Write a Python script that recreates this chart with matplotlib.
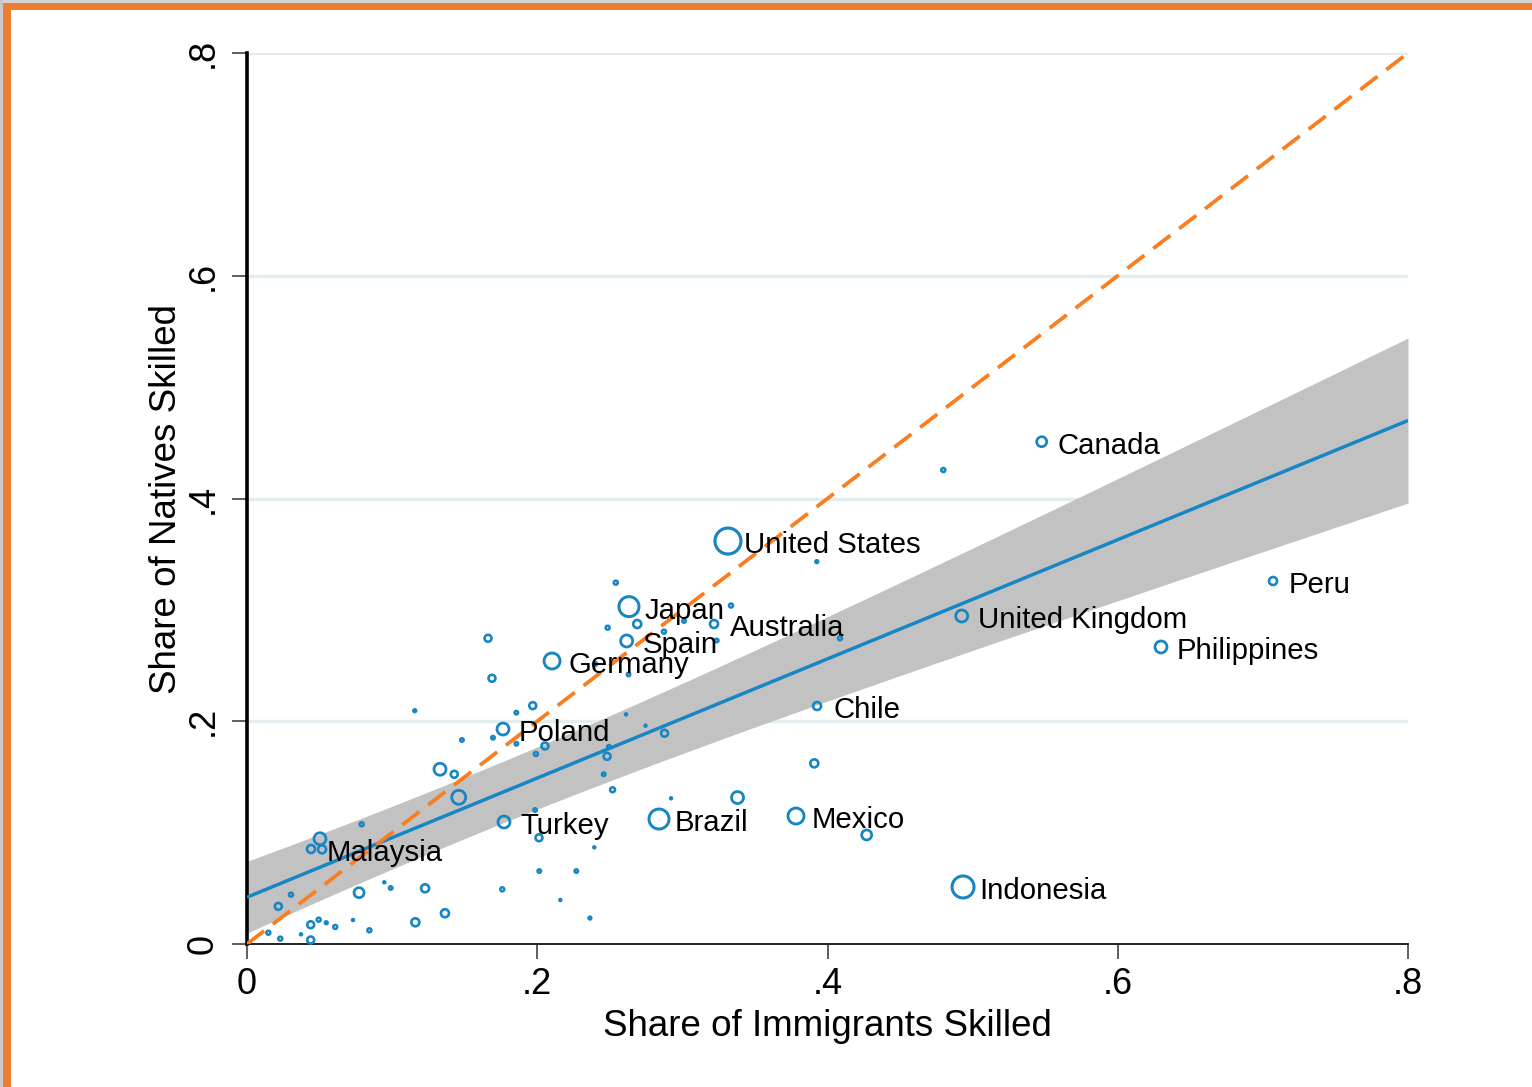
import matplotlib
matplotlib.use("Agg")
import matplotlib.pyplot as plt
import numpy as np
from matplotlib.patches import Rectangle

plt.rcParams['font.family'] = ['Liberation Sans', 'DejaVu Sans']
plt.rcParams['lines.scale_dashes'] = False

# ---------------- data ----------------
labeled_names = ["Canada", "United States", "Peru", "Japan", "Australia", "Spain",
                 "Germany", "United Kingdom", "Philippines", "Chile", "Poland",
                 "Turkey", "Brazil", "Mexico", "Malaysia", "Indonesia"]
labeled_x = [0.5476, 0.3314, 0.7070, 0.2632, 0.3218, 0.2616, 0.2102, 0.4925,
             0.6298, 0.3928, 0.1764, 0.1771, 0.2839, 0.3783, 0.0441, 0.4934]
labeled_y = [0.4510, 0.3618, 0.3259, 0.3029, 0.2873, 0.2721, 0.2541, 0.2945,
             0.2667, 0.2137, 0.1930, 0.1095, 0.1122, 0.1149, 0.0853, 0.0512]
labeled_w = [25, 169, 16, 100, 16, 36, 64, 36, 36, 16, 36, 36, 100, 64, 16, 121]

other_x = [0.2541, 0.2689, 0.2485, 0.2873, 0.3335, 0.3237, 0.1661, 0.1688, 0.2629,
           0.2398, 0.1156, 0.1856, 0.1969, 0.2612, 0.2746, 0.2877, 0.1695, 0.1481,
           0.1856, 0.1991, 0.2053, 0.2494, 0.2481, 0.2458, 0.2519, 0.1330, 0.1428,
           0.1459, 0.2922, 0.3380, 0.0790, 0.1985, 0.2012, 0.2393, 0.0503, 0.0517,
           0.2014, 0.2269, 0.1759, 0.0946, 0.0990, 0.1227, 0.0772, 0.0303, 0.0216,
           0.2159, 0.1364, 0.1160, 0.0843, 0.2363, 0.0494, 0.0439, 0.0546, 0.0608,
           0.0730, 0.0147, 0.0229, 0.0372, 0.0439, 0.3909, 0.4270, 0.3926, 0.4798,
           0.4086, 0.3011]
other_y = [0.3244, 0.2873, 0.2840, 0.2804, 0.3039, 0.2725, 0.2745, 0.2386, 0.2420,
           0.2514, 0.2095, 0.2077, 0.2140, 0.2062, 0.1960, 0.1892, 0.1852, 0.1832,
           0.1798, 0.1706, 0.1778, 0.1771, 0.1685, 0.1524, 0.1385, 0.1569, 0.1524,
           0.1317, 0.1308, 0.1315, 0.1075, 0.1203, 0.0954, 0.0868, 0.0945, 0.0850,
           0.0655, 0.0655, 0.0491, 0.0554, 0.0503, 0.0500, 0.0461, 0.0443, 0.0338,
           0.0395, 0.0276, 0.0195, 0.0123, 0.0233, 0.0218, 0.0173, 0.0191, 0.0153,
           0.0215, 0.0101, 0.0048, 0.0087, 0.0036, 0.1622, 0.0979, 0.3433, 0.4256,
           0.2745, 0.2900]
other_w = [4, 16, 4, 4, 4, 3, 12, 12, 3,
           4, 2, 3, 12, 1, 1, 12, 3, 3,
           3, 4, 12, 3, 12, 3, 6, 36, 12,
           49, 1, 36, 4, 3, 12, 1, 36, 16,
           3, 3, 4, 1, 3, 16, 25, 4, 12,
           1, 16, 16, 4, 2, 4, 12, 2, 4,
           1, 4, 4, 1, 12, 16, 25, 2, 4,
           4, 3]

# fitted line and confidence band
fit_intercept = 0.042
fit_slope = 0.535
ci_A, ci_B, ci_xbar = 0.00076, 0.0114, 0.156

x_ticks = [0, 0.2, 0.4, 0.6, 0.8]
x_ticklabels = ["0", ".2", ".4", ".6", ".8"]
y_ticks = [0, 0.2, 0.4, 0.6, 0.8]
y_ticklabels = ["0", ".2", ".4", ".6", ".8"]

# ---------------- style ----------------
BLUE = '#1786c3'
ORANGE_DASH = '#fa7d1e'
ORANGE_FRAME = '#ed7d31'
BAND = '#c2c2c2'
GRID = '#e3edf0'

W, H = 1532, 1087
fig = plt.figure(figsize=(W / 100, H / 100), dpi=100)
fig.patch.set_facecolor('white')

# frame: gray outer strip and orange bars at top and left
fig.patches.append(Rectangle((0, 1 - 3 / H), 1, 3 / H, transform=fig.transFigure,
                             facecolor='#d4d4d4', edgecolor='none', zorder=0))
fig.patches.append(Rectangle((0, 0), 3 / W, 1, transform=fig.transFigure,
                             facecolor='#c8c8c8', edgecolor='none', zorder=0))
fig.patches.append(Rectangle((3 / W, 1 - 10 / H), 1, 7 / H, transform=fig.transFigure,
                             facecolor=ORANGE_FRAME, edgecolor='none', zorder=1))
fig.patches.append(Rectangle((3 / W, 0), 8 / W, 1 - 3 / H, transform=fig.transFigure,
                             facecolor=ORANGE_FRAME, edgecolor='none', zorder=1))

ax = fig.add_axes([247 / W, 1 - 944 / H, (1408 - 247) / W, (944 - 53) / H])
ax.set_xlim(0, 0.8)
ax.set_ylim(0, 0.8)

for g in [0.2, 0.4, 0.6, 0.8]:
    ax.axhline(g, color=GRID, lw=2.4, zorder=0.5)

xs = np.linspace(0, 0.8, 200)
yfit = fit_intercept + fit_slope * xs
half = np.sqrt(ci_A + ci_B * (xs - ci_xbar) ** 2)
ax.fill_between(xs, yfit - half, yfit + half, color=BAND, lw=0, zorder=1)
ax.plot(xs, yfit, color=BLUE, lw=2.5, zorder=3, solid_capstyle='butt')

def sizes(w):
    w = np.asarray(w, float)
    r = np.sqrt(w)               # relative radius
    s = 2.07 * w                  # points^2
    lw = 1.75 + 0.04 * r
    return s, lw

s1, lw1 = sizes(other_w)
ax.scatter(other_x, other_y, s=s1, facecolors='none', edgecolors=BLUE,
           linewidths=lw1, zorder=4, clip_on=False)
s2, lw2 = sizes(labeled_w)
ax.scatter(labeled_x, labeled_y, s=s2, facecolors='none', edgecolors=BLUE,
           linewidths=lw2, zorder=4, clip_on=False)

ax.plot([0, 0.8], [0, 0.8], color=ORANGE_DASH, lw=2.7, dashes=(15.5, 8),
        zorder=5, dash_capstyle='butt')

for name, x, y in zip(labeled_names, labeled_x, labeled_y):
    ax.annotate(name, (x, y), xytext=(11.5, -8.6), textcoords='offset points',
                ha='left', va='baseline', fontsize=21.2, color='#000000', zorder=6)

for side in ['top', 'right']:
    ax.spines[side].set_visible(False)
ax.spines['left'].set_color('black')
ax.spines['left'].set_linewidth(2.6)
ax.spines['left'].set_bounds(0, 0.8)
ax.spines['bottom'].set_color('#222222')
ax.spines['bottom'].set_linewidth(1.4)
ax.spines['bottom'].set_bounds(0, 0.8)

ax.set_xticks(x_ticks)
ax.set_xticklabels(x_ticklabels)
ax.set_yticks(y_ticks)
ax.set_yticklabels(y_ticklabels, rotation=90, va='center')
ax.tick_params(axis='both', direction='out', length=10.8, width=1.1,
               color='#333333', labelsize=26, labelcolor='#000000')
ax.tick_params(axis='x', pad=6)
ax.tick_params(axis='y', pad=8)

ax.set_xlabel("Share of Immigrants Skilled", fontsize=26.5, color='#000000', labelpad=5)
ax.set_ylabel("Share of Natives Skilled", fontsize=26.5, color='#000000', labelpad=1)

fig.savefig("out.png", dpi=100)
